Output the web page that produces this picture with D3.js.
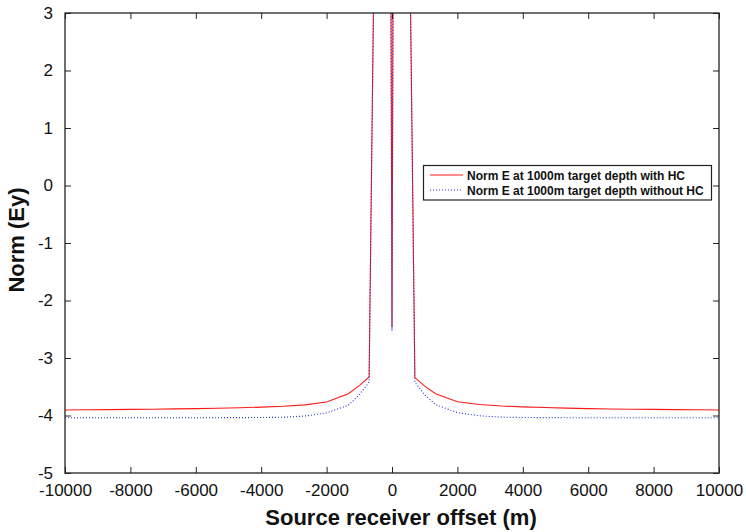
<!DOCTYPE html>
<html>
<head>
<meta charset="utf-8">
<script src="https://cdn.jsdelivr.net/npm/d3@7"></script>
<style>
  html, body { margin: 0; padding: 0; background: #fff; }
  svg { display: block; }
  text { font-family: "Liberation Sans", Arial, Helvetica, sans-serif; fill: #111; }
</style>
</head>
<body>
<svg id="chart" width="746" height="532"></svg>
<script>
// ---- data ----
const offsets = [-10000, -9333, -8667, -8000, -7333, -6667, -6000, -5333, -4667, -4000, -3333, -2667, -2000, -1333, -1000, -700, -140, 0,
                 140, 700, 1000, 1333, 2000, 2667, 3333, 4000, 4667, 5333, 6000, 6667, 7333, 8000, 8667, 9333, 10000];
const normWithHC = [-3.905, -3.900, -3.897, -3.893, -3.890, -3.885, -3.880, -3.873, -3.865, -3.855, -3.840, -3.815, -3.765, -3.620, -3.480, -3.330, 23.7, -2.46,
                    23.7, -3.340, -3.490, -3.620, -3.760, -3.810, -3.835, -3.850, -3.862, -3.872, -3.880, -3.886, -3.890, -3.894, -3.897, -3.900, -3.905];
const normWithoutHC = [-4.040, -4.040, -4.040, -4.040, -4.040, -4.040, -4.040, -4.038, -4.037, -4.035, -4.030, -4.010, -3.955, -3.820, -3.640, -3.420, 23.7, -2.53,
                       23.7, -3.420, -3.640, -3.810, -3.950, -4.005, -4.028, -4.035, -4.037, -4.038, -4.040, -4.040, -4.040, -4.040, -4.040, -4.040, -4.040];
const xTicks = [-10000, -8000, -6000, -4000, -2000, 0, 2000, 4000, 6000, 8000, 10000];
const yTicks = [3, 2, 1, 0, -1, -2, -3, -4, -5];
const seriesNames = ["Norm E at 1000m target depth with HC", "Norm E at 1000m target depth without HC"];
const xTitle = "Source receiver offset (m)";
const yTitle = "Norm (Ey)";

// ---- layout ----
const svg = d3.select("#chart");
const L = 65, R = 719, T = 13, B = 473;
const x = d3.scaleLinear().domain([-10000, 10000]).range([L, R]);
const y = d3.scaleLinear().domain([-5, 3]).range([B, T]);
const tickLen = 6;
const fmt = d => String(d);  // plain hyphen-minus like the original

svg.append("defs").append("clipPath").attr("id", "clip")
  .append("rect").attr("x", L).attr("y", T).attr("width", R - L).attr("height", B - T);

const series = [
  { name: seriesNames[0], values: normWithHC, color: "#ff1a1a", dash: null, width: 1.1 },
  { name: seriesNames[1], values: normWithoutHC, color: "#2233cc", dash: "1,2", width: 1.1 }
];

const line = d3.line().x((d, i) => x(offsets[i])).y(d => y(d));
const g = svg.append("g").attr("clip-path", "url(#clip)");
series.forEach(s => {
  g.append("path").datum(s.values)
    .attr("d", line)
    .attr("fill", "none")
    .attr("stroke", s.color)
    .attr("stroke-width", s.width)
    .attr("stroke-dasharray", s.dash);
});

// ---- axes (box with inward ticks on all sides) ----
const axStyle = sel => {
  sel.select(".domain").remove();
  sel.selectAll(".tick line").attr("stroke", "#222").attr("stroke-width", 1);
  sel.selectAll(".tick text").style("font-size", "17px").style("font-family", '"Liberation Sans", Arial, sans-serif').attr("fill", "#111");
};
svg.append("g").attr("transform", `translate(0,${B})`)
  .call(d3.axisBottom(x).tickValues(xTicks).tickSizeInner(-tickLen).tickSizeOuter(0).tickPadding(11).tickFormat(fmt))
  .call(axStyle);
svg.append("g").attr("transform", `translate(0,${T})`)
  .call(d3.axisTop(x).tickValues(xTicks).tickSizeInner(-tickLen).tickSizeOuter(0).tickFormat(""))
  .call(axStyle);
svg.append("g").attr("transform", `translate(${L},0)`)
  .call(d3.axisLeft(y).tickValues(yTicks).tickSizeInner(-tickLen).tickSizeOuter(0).tickPadding(12).tickFormat(fmt))
  .call(axStyle);
svg.append("g").attr("transform", `translate(${R},0)`)
  .call(d3.axisRight(y).tickValues(yTicks).tickSizeInner(-tickLen).tickSizeOuter(0).tickFormat(""))
  .call(axStyle);

svg.append("rect").attr("x", L).attr("y", T).attr("width", R - L).attr("height", B - T)
  .attr("fill", "none").attr("stroke", "#222").attr("stroke-width", 1.3);

// ---- titles ----
svg.append("text").attr("x", 401).attr("y", 525).attr("text-anchor", "middle")
  .style("font-size", "22px").style("font-weight", "bold").text(xTitle);
svg.append("text").attr("transform", `translate(24,${(T + B) / 2 - 3}) rotate(-90)`).attr("text-anchor", "middle")
  .style("font-size", "22px").style("font-weight", "bold").text(yTitle);

// ---- legend ----
const lg = svg.append("g");
lg.append("rect").attr("x", 423.5).attr("y", 165.5).attr("width", 288).attr("height", 34.5)
  .attr("fill", "#fff").attr("stroke", "#222").attr("stroke-width", 1.2);
series.forEach((s, i) => {
  const yy = 175 + i * 15;
  lg.append("line").attr("x1", 430).attr("x2", 463).attr("y1", yy).attr("y2", yy)
    .attr("stroke", s.color).attr("stroke-width", 1).attr("stroke-dasharray", s.dash);
  lg.append("text").attr("x", 467).attr("y", yy + 4.5)
    .style("font-size", "12px").style("font-weight", "bold").text(s.name);
});
</script>
</body>
</html>
